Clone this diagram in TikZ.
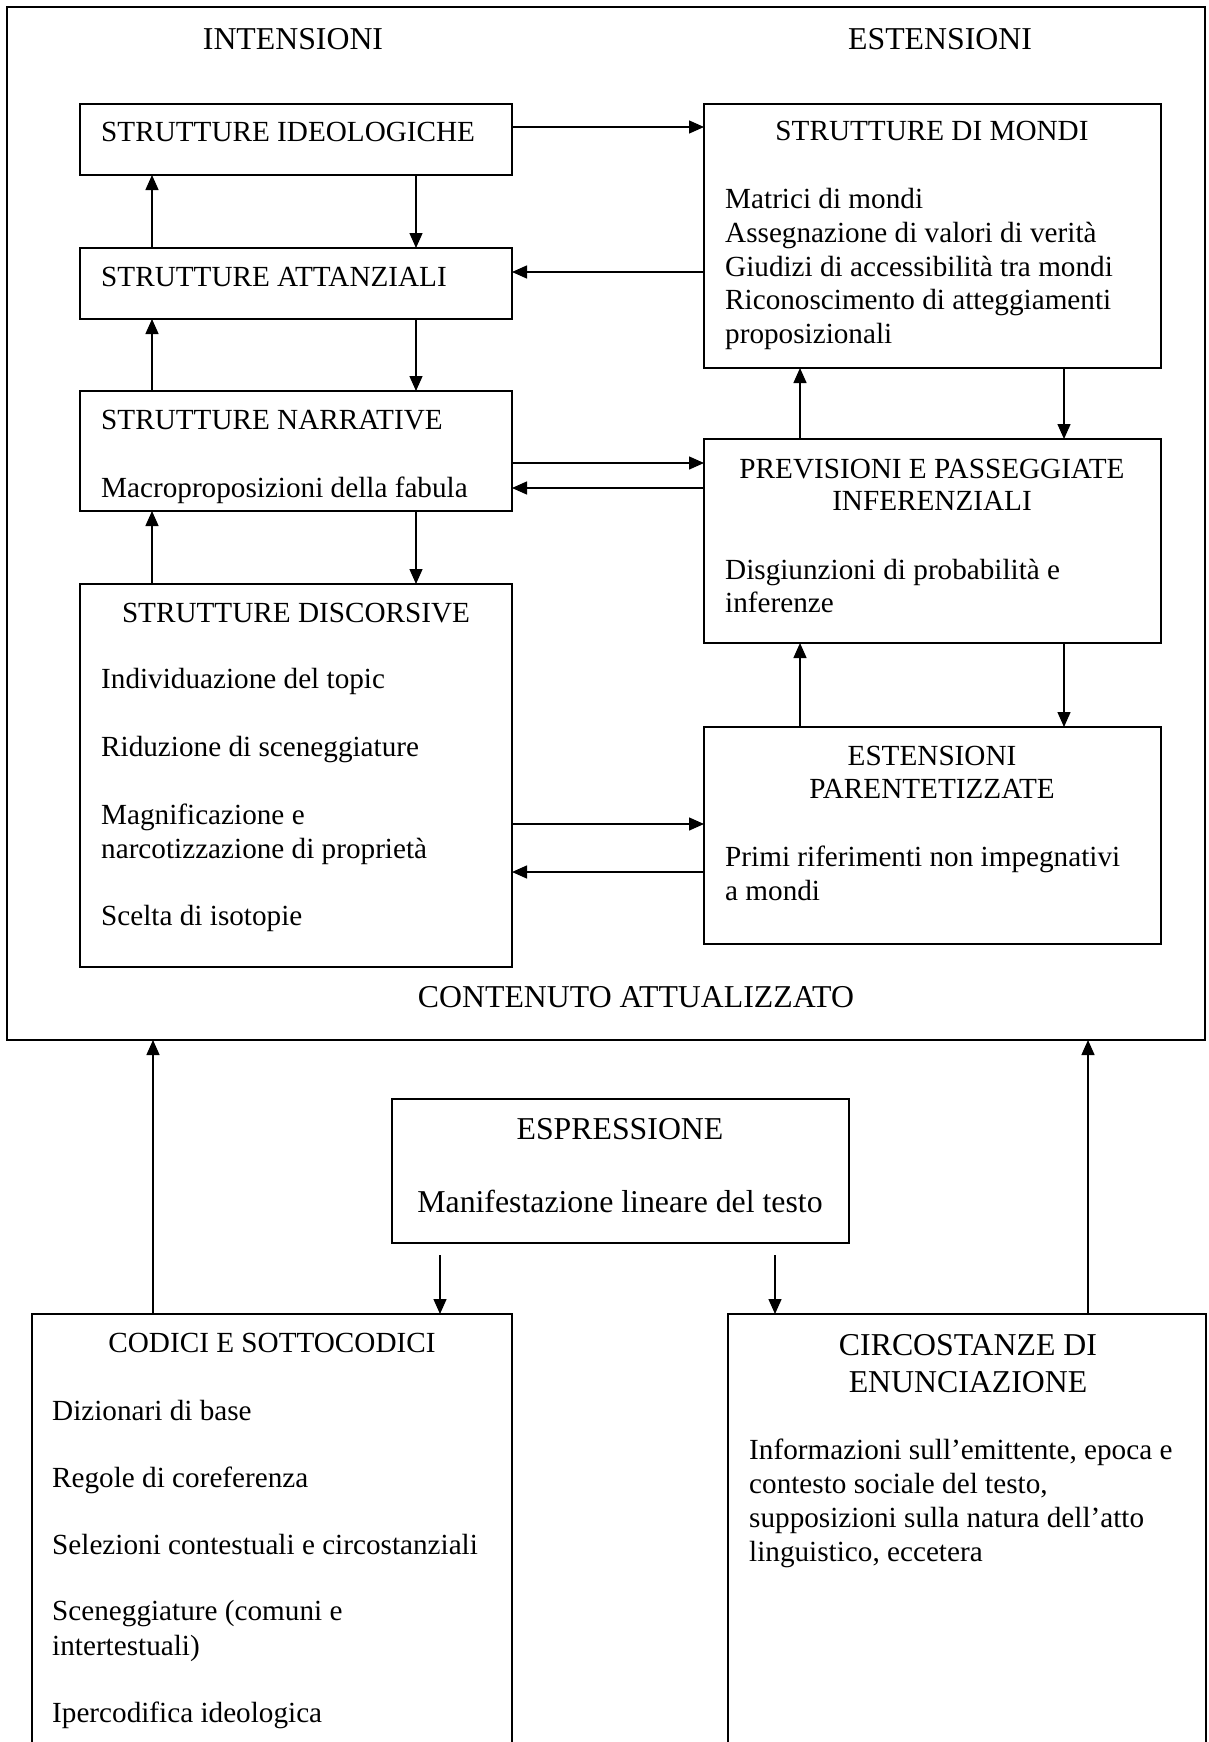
\documentclass[tikz,border=0pt]{standalone}
\usepackage{fontspec}
\setmainfont{Liberation Serif}
\usetikzlibrary{arrows.meta}
\newcommand\regsize{\fontsize{29.2}{34}\selectfont}
\newcommand\bigsize{\fontsize{31.8}{36}\selectfont}
\begin{document}
\begin{tikzpicture}[x=1pt,y=-1pt,
  box/.style={draw, line width=1.9pt, inner sep=0pt, outer sep=0pt, anchor=north west},
  lbl/.style={inner sep=0pt, anchor=base west, font=\regsize},
  clbl/.style={inner sep=0pt, anchor=base, font=\regsize},
  hdr/.style={inner sep=0pt, anchor=base, font=\bigsize},
  arr/.style={-{Triangle[length=15pt,width=13pt]}, line width=1.4pt}]
\useasboundingbox (0,0) rectangle (1208,1742);
\clip (0,0) rectangle (1208,1742);
\fill[white] (0,0) rectangle (1208,1742);

% outer frame: actualised content
\node[box, minimum width=1198pt, minimum height=1033pt] (frame) at (7,7) {};
\node[hdr] (intens) at (293,50) {INTENSIONI};
\node[hdr] (estens) at (940,50) {ESTENSIONI};
\node[hdr] (contenuto) at (636,1007) {CONTENUTO ATTUALIZZATO};

% left column: intensional structures
\node[box, minimum width=432pt, minimum height=71pt] (ideo) at (80,104) {};
\node[lbl] (ideoT) at (101,142) {STRUTTURE IDEOLOGICHE};

\node[box, minimum width=432pt, minimum height=71pt] (att) at (80,248) {};
\node[lbl] (attT) at (101,286) {STRUTTURE ATTANZIALI};

\node[box, minimum width=432pt, minimum height=120pt] (narr) at (80,391) {};
\node[lbl] (narrT) at (101,429) {STRUTTURE NARRATIVE};
\node[lbl] (narr1) at (101,497) {Macroproposizioni della fabula};

\node[box, minimum width=432pt, minimum height=383pt] (disc) at (80,584) {};
\node[clbl] (discT) at (296,622) {STRUTTURE DISCORSIVE};
\node[lbl] (disc1) at (101,688) {Individuazione del topic};
\node[lbl] (disc2) at (101,756) {Riduzione di sceneggiature};
\node[lbl] (disc3) at (101,824) {Magnificazione e};
\node[lbl] (disc4) at (101,858) {narcotizzazione di proprietà};
\node[lbl] (disc5) at (101,925) {Scelta di isotopie};

% right column: extensional structures
\node[box, minimum width=457pt, minimum height=264pt] (mondi) at (704,104) {};
\node[clbl] (mondiT) at (932,141) {STRUTTURE DI MONDI};
\node[lbl] (mondi1) at (725,208) {Matrici di mondi};
\node[lbl] (mondi2) at (725,242) {Assegnazione di valori di verità};
\node[lbl] (mondi3) at (725,276) {Giudizi di accessibilità tra mondi};
\node[lbl] (mondi4) at (725,309) {Riconoscimento di atteggiamenti};
\node[lbl] (mondi5) at (725,343) {proposizionali};

\node[box, minimum width=457pt, minimum height=204pt] (prev) at (704,439) {};
\node[clbl] (prevT1) at (932,478) {PREVISIONI E PASSEGGIATE};
\node[clbl] (prevT2) at (932,510) {INFERENZIALI};
\node[lbl] (prev1) at (725,579) {Disgiunzioni di probabilità e};
\node[lbl] (prev2) at (725,612) {inferenze};

\node[box, minimum width=457pt, minimum height=217pt] (est) at (704,727) {};
\node[clbl] (estT1) at (932,765) {ESTENSIONI};
\node[clbl] (estT2) at (932,798) {PARENTETIZZATE};
\node[lbl] (est1) at (725,866) {Primi riferimenti non impegnativi};
\node[lbl] (est2) at (725,900) {a mondi};

% expression and its two sources
\node[box, minimum width=457pt, minimum height=144pt] (espr) at (392,1099) {};
\node[hdr] (esprT) at (620,1139) {ESPRESSIONE};
\node[hdr] (espr1) at (620,1212) {Manifestazione lineare del testo};

\node[box, minimum width=480pt, minimum height=470pt] (cod) at (32,1314) {};
\node[clbl] (codT) at (272,1352) {CODICI E SOTTOCODICI};
\node[lbl] (cod1) at (52,1420) {Dizionari di base};
\node[lbl] (cod2) at (52,1487) {Regole di coreferenza};
\node[lbl] (cod3) at (52,1554) {Selezioni contestuali e circostanziali};
\node[lbl] (cod4) at (52,1620) {Sceneggiature (comuni e};
\node[lbl] (cod5) at (52,1655) {intertestuali)};
\node[lbl] (cod6) at (52,1722) {Ipercodifica ideologica};

\node[box, minimum width=478pt, minimum height=470pt] (circ) at (728,1314) {};
\node[hdr] (circT1) at (968,1355) {CIRCOSTANZE DI};
\node[hdr] (circT2) at (968,1392) {ENUNCIAZIONE};
\node[lbl] (circ1) at (749,1459) {Informazioni sull’emittente, epoca e};
\node[lbl] (circ2) at (749,1493) {contesto sociale del testo,};
\node[lbl] (circ3) at (749,1527) {supposizioni sulla natura dell’atto};
\node[lbl] (circ4) at (749,1561) {linguistico, eccetera};

% vertical links, left column
\draw[arr] ([xshift=72pt]att.north west) -- ([xshift=72pt]ideo.south west);
\draw[arr] ([xshift=336pt]ideo.south west) -- ([xshift=336pt]att.north west);
\draw[arr] ([xshift=72pt]narr.north west) -- ([xshift=72pt]att.south west);
\draw[arr] ([xshift=336pt]att.south west) -- ([xshift=336pt]narr.north west);
\draw[arr] ([xshift=72pt]disc.north west) -- ([xshift=72pt]narr.south west);
\draw[arr] ([xshift=336pt]narr.south west) -- ([xshift=336pt]disc.north west);

% vertical links, right column
\draw[arr] ([xshift=96pt]prev.north west) -- ([xshift=96pt]mondi.south west);
\draw[arr] ([xshift=360pt]mondi.south west) -- ([xshift=360pt]prev.north west);
\draw[arr] ([xshift=96pt]est.north west) -- ([xshift=96pt]prev.south west);
\draw[arr] ([xshift=360pt]prev.south west) -- ([xshift=360pt]est.north west);

% horizontal links between the columns
\draw[arr] ([yshift=-23pt]ideo.north east) -- ([yshift=-23pt]mondi.north west);
\draw[arr] ([yshift=-168pt]mondi.north west) -- ([yshift=-24pt]att.north east);
\draw[arr] ([yshift=-72pt]narr.north east) -- ([yshift=-24pt]prev.north west);
\draw[arr] ([yshift=-49pt]prev.north west) -- ([yshift=-97pt]narr.north east);
\draw[arr] ([yshift=-240pt]disc.north east) -- ([yshift=-97pt]est.north west);
\draw[arr] ([yshift=-145pt]est.north west) -- ([yshift=-288pt]disc.north east);

% links below the frame
\draw[arr] ([xshift=121pt]cod.north west) -- ([xshift=146pt]frame.south west);
\draw[arr] ([xshift=360pt]circ.north west) -- ([xshift=1081pt]frame.south west);
\draw[arr] ([xshift=48pt,yshift=-12pt]espr.south west) -- ([xshift=408pt]cod.north west);
\draw[arr] ([xshift=383pt,yshift=-12pt]espr.south west) -- ([xshift=47pt]circ.north west);
\end{tikzpicture}
\end{document}
